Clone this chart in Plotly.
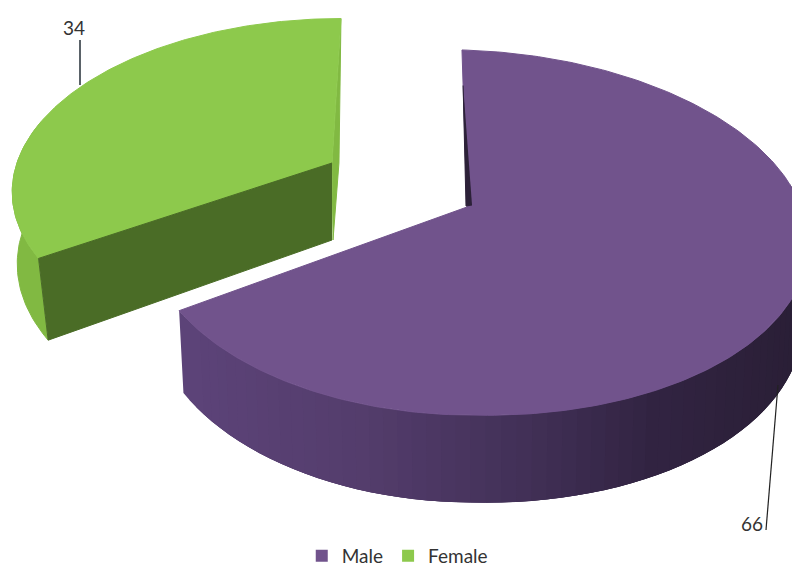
import numpy as np
import plotly.graph_objects as go

# Data
categories = ["Male", "Female"]
values = [66, 34]
value_labels = ["66", "34"]

# Colours
top_colors = {"Male": "#71538c", "Female": "#8dc94c"}
front_cut = "#4a6c26"
female_wall = "#81b942"
male_sliver = "#2c2138"
male_wall_stops = [(180, (92, 67, 120)), (330, (84, 61, 108)), (470, (68, 50, 90)), (620, (50, 36, 66)), (792, (42, 31, 54))]

# Projection of the pie (perspective ellipse in a pixel-like coordinate system)
K = 0.14
RY = 179
DZ = 77
params = {
    "Male":   dict(ax=467, ay=207, rxl=319, rxr=337, sy=1.0,  tilt=0.032, sxb=0.985, bt=0.0, c=8),
    "Female": dict(ax=332, ay=163, rxl=315, rxr=315, sy=0.92, tilt=-0.062, sxb=0.99, bt=0.07, c=0),
}


def project(theta, p, bottom=False, r=1.0):
    """theta: clockwise from 12 o'clock, radians."""
    theta = np.asarray(theta, float)
    u, v = r * np.sin(theta), r * np.cos(theta)
    w = 1 + K * v
    rx = np.where(u < 0, p["rxl"], p["rxr"])
    dy = -RY * p["sy"] * v / w
    dx = rx * u / w + dy * p["tilt"]
    dy = dy + p["c"] * np.maximum(u, 0)
    if bottom:
        return p["ax"] + dx * p["sxb"] + dy * p["bt"], p["ay"] + DZ + dy * 1.05
    return p["ax"] + dx, p["ay"] + dy


def male_color(x):
    xs = [s[0] for s in male_wall_stops]
    rgb = [np.interp(x, xs, [s[1][i] for s in male_wall_stops]) for i in range(3)]
    return "rgb(%d,%d,%d)" % tuple(rgb)


def poly(fig, xs, ys, color, lw=1):
    fig.add_trace(go.Scatter(x=list(xs), y=list(ys), mode="lines", fill="toself", fillcolor=color,
                             line=dict(color=color, width=lw), hoverinfo="skip", showlegend=False))


total = sum(values)
split = 2 * np.pi * values[0] / total
fig = go.Figure()

# Male outer wall: overlapping strips so no seams show
pm = params["Male"]
edges = np.linspace(np.radians(80), split, 70)
step = edges[1] - edges[0]
for a, b in zip(edges[:-1], edges[1:]):
    arc = np.linspace(max(a - 2 * step, edges[0]), b, 4)
    tx, ty = project(arc, pm)
    bx, by = project(arc[::-1], pm, bottom=True)
    poly(fig, np.r_[tx, bx], np.r_[ty, by], male_color(project(b, pm)[0]), lw=0)

# Male top
arc = np.linspace(0, split, 240)
tx, ty = project(arc, pm)
poly(fig, np.r_[pm["ax"], tx, pm["ax"]], np.r_[pm["ay"], ty, pm["ay"]], top_colors["Male"])

# Male thin inner wall visible at 12 o'clock
sx0, sy0 = project(0.0, pm, r=0.75)
poly(fig, [float(sx0), pm["ax"] - 1, pm["ax"] + 5], [float(sy0), pm["ay"] - 1, pm["ay"] - 2], male_sliver)

# Female
pf = params["Female"]
arc = np.linspace(split, 2 * np.pi, 160)
wall = np.linspace(split, np.radians(285), 40)
tx, ty = project(wall, pf)
bx, by = project(wall[::-1], pf, bottom=True)
poly(fig, np.r_[tx, bx], np.r_[ty, by], female_wall)

cx, cy = project(0.0, pf)
poly(fig, [float(cx), float(cx) - 2, pf["ax"] + 1, pf["ax"]],
     [float(cy), pf["ay"], pf["ay"] + DZ, pf["ay"]], female_wall)

tx, ty = project(arc, pf)
poly(fig, np.r_[pf["ax"], tx, pf["ax"]], np.r_[pf["ay"], ty, pf["ay"]], top_colors["Female"])

# Female cut face
ex, ey = project(split, pf)
fx, fy = project(split, pf, bottom=True)
poly(fig, [pf["ax"], float(ex), float(fx), pf["ax"]], [pf["ay"], float(ey), float(fy), pf["ay"] + DZ], front_cut)

# Leader lines and value labels
fig.add_trace(go.Scatter(x=[80, 80], y=[40, 85], mode="lines", line=dict(color="#5a6268", width=2),
                         hoverinfo="skip", showlegend=False))
fig.add_trace(go.Scatter(x=[766, 778], y=[530, 385], mode="lines", line=dict(color="#222222", width=1.2),
                         hoverinfo="skip", showlegend=False))
fig.add_trace(go.Scatter(x=[74, 752], y=[30, 526], mode="text", text=[value_labels[1], value_labels[0]],
                         textposition="middle center",
                         textfont=dict(family="Lato", size=19, color="#333333"),
                         hoverinfo="skip", showlegend=False))

# Legend entries
for name in categories:
    fig.add_trace(go.Scatter(x=[None], y=[None], mode="markers", name=name,
                             marker=dict(symbol="square", size=12, color=top_colors[name])))

fig.update_layout(
    width=792, height=575, margin=dict(l=0, r=0, t=0, b=0),
    paper_bgcolor="white", plot_bgcolor="white",
    xaxis=dict(range=[0, 792], visible=False, fixedrange=True),
    yaxis=dict(range=[575, 0], visible=False, fixedrange=True),
    legend=dict(orientation="h", x=0.381, y=0.0, xanchor="left", yanchor="bottom",
                font=dict(family="Lato", size=19, color="#333333"), bgcolor="rgba(0,0,0,0)",
                itemwidth=30, tracegroupgap=0),
)
fig.write_html("out.html", config={"displayModeBar": False},
               post_script="document.body.style.margin='0';document.documentElement.style.overflow='hidden';")
